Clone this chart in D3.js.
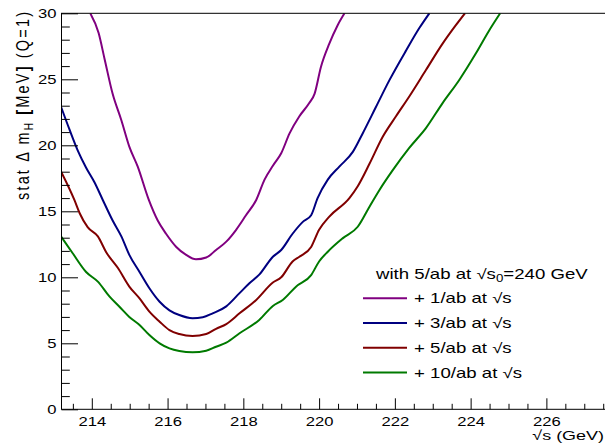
<!DOCTYPE html>
<html>
<head>
<meta charset="utf-8">
<script src="https://cdn.jsdelivr.net/npm/d3@7"></script>
<style>
  body { margin: 0; background: #fff; }
  svg { display: block; }
  text { font-family: "Liberation Sans", Arial, Helvetica, sans-serif; fill: #000; }
</style>
</head>
<body>
<svg id="chart" width="605" height="444"></svg>
<script>
// Statistical uncertainty on the Higgs mass vs. threshold-scan energy,
// for several additional luminosities on top of 5/ab at 240 GeV.
const seriesLabels = ["+ 1/ab at \u221As", "+ 3/ab at \u221As", "+ 5/ab at \u221As", "+ 10/ab at \u221As"];
const seriesColors = ["#800080", "#000080", "#800000", "#007a00"];

const sqrtS_1ab = [213.96,214.18,214.34,214.55,214.78,214.99,215.21,215.50,215.74,215.96,216.23,216.49,216.75,217.02,217.28,217.55,217.81,218.07,218.34,218.56,218.78,219.00,219.22,219.48,219.74,219.88,220.05,220.27,220.49,220.67];
const dmH_1ab   = [30.0,28.5,26.5,23.9,21.9,19.9,18.4,15.9,14.3,13.3,12.3,11.7,11.36,11.5,12.07,12.7,13.6,14.7,15.86,17.4,18.45,19.4,20.9,22.2,23.2,23.9,25.95,27.7,29.1,30.0];

const sqrtS_3ab = [213.19,213.41,213.63,213.85,214.07,214.29,214.55,214.78,214.99,215.26,215.52,215.79,216.05,216.31,216.66,216.93,217.19,217.55,217.90,218.16,218.42,218.78,219.00,219.30,219.57,219.79,219.96,220.23,220.54,220.89,221.15,221.50,221.85,222.30,222.65,222.91];
const dmH_3ab   = [22.9,21.2,19.6,18.3,17.2,15.86,14.3,13.1,11.7,10.4,9.17,8.15,7.5,7.14,6.9,6.97,7.27,7.8,8.8,9.55,10.2,11.56,12.07,13.3,14.2,14.7,16.0,17.4,18.4,19.5,20.9,22.9,24.9,27.2,28.9,30.0];

const sqrtS_5ab = [213.19,213.54,213.68,213.89,214.16,214.38,214.69,214.99,215.26,215.52,215.79,216.05,216.31,216.66,217.02,217.28,217.55,217.90,218.34,218.78,219.00,219.30,219.48,219.79,220.00,220.27,220.80,221.02,221.33,221.68,222.03,222.38,222.82,223.26,223.61,223.85];
const dmH_5ab   = [18.0,15.86,14.85,13.8,13.1,11.9,10.7,9.3,8.4,7.4,6.64,6.0,5.7,5.55,5.7,6.1,6.46,7.27,8.28,9.6,10.0,11.2,11.56,12.3,13.6,14.6,16.0,16.9,18.6,20.65,22.2,23.7,25.7,27.7,29.1,30.0];

const sqrtS_10ab = [213.19,213.50,213.85,214.16,214.47,214.73,214.99,215.26,215.52,215.79,216.05,216.31,216.66,217.02,217.28,217.55,217.90,218.42,218.78,219.04,219.39,219.79,220.00,220.23,220.62,221.02,221.33,221.59,221.94,222.38,222.82,223.26,223.70,224.14,224.49,224.78];
const dmH_10ab   = [13.08,11.8,10.4,9.67,8.53,7.77,7.0,6.39,5.63,5.0,4.62,4.42,4.32,4.44,4.74,5.05,5.76,6.77,7.83,8.28,9.29,10.17,11.2,11.94,12.95,13.83,15.35,16.6,18.1,19.8,21.3,23.2,24.95,26.97,28.7,30.0];

const xTickValues = [214, 216, 218, 220, 222, 224, 226];
const yTickValues = [0, 5, 10, 15, 20, 25, 30];

const series = [
  { x: sqrtS_1ab,  y: dmH_1ab },
  { x: sqrtS_3ab,  y: dmH_3ab },
  { x: sqrtS_5ab,  y: dmH_5ab },
  { x: sqrtS_10ab, y: dmH_10ab }
].map((s, i) => ({
  label: seriesLabels[i],
  color: seriesColors[i],
  points: s.x.map((v, j) => [v, s.y[j]])
}));

// Layout
const plotLeft = 61.5, plotTop = 13.3, plotBottom = 409.3, plotRight = 607;
const stretch = 1.33; // text is drawn slightly wide

const svg = d3.select("#chart");
const x = d3.scaleLinear().domain([213.2, 227.6]).range([plotLeft, plotRight]);
const y = d3.scaleLinear().domain([0, 30]).range([plotBottom, plotTop]);

svg.append("defs").append("clipPath").attr("id", "plot-clip")
  .append("rect")
  .attr("x", plotLeft).attr("y", plotTop)
  .attr("width", plotRight - plotLeft).attr("height", plotBottom - plotTop);

// Curves
const line = d3.line()
  .x(d => x(d[0]))
  .y(d => y(d[1]))
  .curve(d3.curveMonotoneX);

svg.append("g").attr("clip-path", "url(#plot-clip)")
  .selectAll("path")
  .data(series)
  .join("path")
  .attr("d", d => line(d.points))
  .attr("fill", "none")
  .attr("stroke", d => d.color)
  .attr("stroke-width", 2)
  .attr("stroke-linejoin", "round");

// Minor ticks
const xMinor = d3.range(213.5, 227.6, 0.5).filter(v => !xTickValues.includes(v));
const yMinor = d3.range(1, 30, 1).filter(v => v % 5 !== 0);

svg.append("g")
  .attr("transform", `translate(0,${plotBottom})`)
  .call(d3.axisBottom(x).tickValues(xMinor).tickSize(-5.5).tickSizeOuter(0).tickFormat(""))
  .call(g => g.select(".domain").remove());

svg.append("g")
  .attr("transform", `translate(${plotLeft},0)`)
  .call(d3.axisLeft(y).tickValues(yMinor).tickSize(-8.3).tickSizeOuter(0).tickFormat(""))
  .call(g => g.select(".domain").remove());

// Major ticks and labels
const xAxis = svg.append("g")
  .attr("transform", `translate(0,${plotBottom})`)
  .call(d3.axisBottom(x).tickValues(xTickValues).tickSize(-11).tickSizeOuter(0).tickPadding(8))
  .call(g => g.select(".domain").remove());
xAxis.selectAll("text")
  .attr("font-size", 12.5)
  .attr("transform", `scale(${stretch},1)`);

const yAxis = svg.append("g")
  .attr("transform", `translate(${plotLeft},0)`)
  .call(d3.axisLeft(y).tickValues(yTickValues).tickSize(-16.5).tickSizeOuter(0).tickPadding(0))
  .call(g => g.select(".domain").remove());
yAxis.selectAll("text")
  .attr("font-size", 12.5)
  .attr("x", -5 / stretch)
  .attr("transform", `scale(${stretch},1)`);

svg.selectAll(".tick line").attr("stroke", "#000").attr("stroke-width", 1);
svg.selectAll("g").filter(function () { return this.hasAttribute("font-family"); })
  .attr("font-family", null).attr("font-size", null);

// Frame
svg.append("rect")
  .attr("x", plotLeft).attr("y", plotTop)
  .attr("width", plotRight - plotLeft).attr("height", plotBottom - plotTop)
  .attr("fill", "none").attr("stroke", "#000").attr("stroke-width", 1);

// Axis titles
svg.append("text")
  .attr("transform", `translate(604,440) scale(${stretch},1)`)
  .attr("text-anchor", "end")
  .attr("font-size", 13.5)
  .text("\u221As (GeV)");

const yTitle = svg.append("text")
  .attr("transform", `translate(29,12) scale(${stretch},1) rotate(-90)`)
  .attr("text-anchor", "end")
  .attr("font-size", 14.5)
  .attr("textLength", 188)
  .attr("lengthAdjust", "spacing");
yTitle.append("tspan").text("stat \u0394 m");
yTitle.append("tspan").attr("font-size", 10).attr("dy", 3).text("H");
yTitle.append("tspan").attr("dy", -3).text(" ");
yTitle.append("tspan").attr("font-weight", "bold").text("[");
yTitle.append("tspan").text("MeV");
yTitle.append("tspan").attr("font-weight", "bold").text("]");
yTitle.append("tspan").text(" (Q=1)");

// Legend
const legendHeader = svg.append("text")
  .attr("transform", `translate(376,279) scale(${stretch},1)`)
  .attr("font-size", 14);
legendHeader.append("tspan").text("with 5/ab at \u221As");
legendHeader.append("tspan").attr("font-size", 10).attr("dy", 3).text("0");
legendHeader.append("tspan").attr("dy", -3).text("=240 GeV");

const legendRowY = d3.scaleLinear().domain([0, 3]).range([298.3, 372.5]);
const legend = svg.append("g")
  .selectAll("g")
  .data(series)
  .join("g")
  .attr("transform", (d, i) => `translate(0,${legendRowY(i)})`);
legend.append("line")
  .attr("x1", 363).attr("x2", 407)
  .attr("stroke", d => d.color)
  .attr("stroke-width", 2);
legend.append("text")
  .attr("transform", `translate(414,5) scale(${stretch},1)`)
  .attr("font-size", 14)
  .text(d => d.label);
</script>
</body>
</html>
